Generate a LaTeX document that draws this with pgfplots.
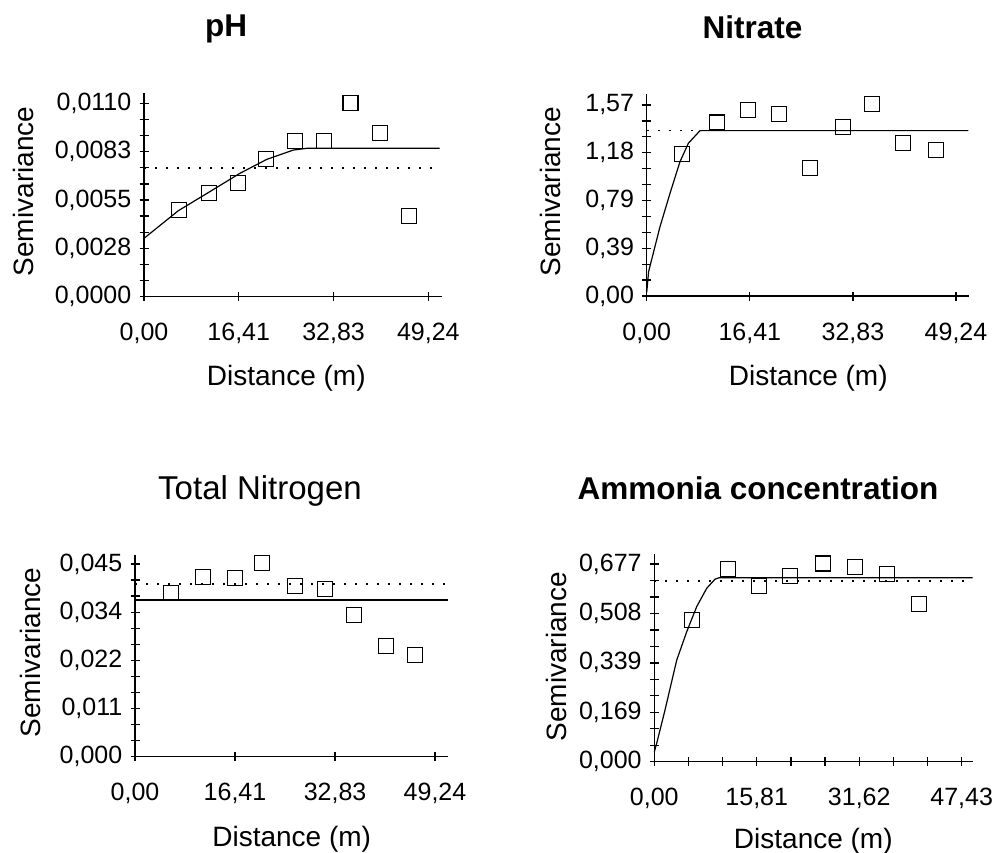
\documentclass[border=0pt]{standalone}
\usepackage{fontspec}
\setmainfont{Liberation Sans}
\usepackage{pgfplots}
\pgfplotsset{compat=1.18}
\pgfplotsset{
  semi/.style={
    scale only axis, anchor=south west, clip=false,
    axis x line=bottom, axis y line=left,
    axis line style={-, line width=1.3pt, black},
    xmin=0, ymin=0,
    scaled x ticks=false, scaled y ticks=false,
    tick align=center, xtick align=center, ytick align=center,
    major tick length=9pt, minor tick length=9pt,
    minor x tick num=2, minor y tick num=2,
    every tick/.style={black, line width=1.3pt},
    every minor tick/.style={black, line width=1.3pt},
    tick label style={font=\fontsize{25}{30}\selectfont, inner sep=0pt},
    xticklabel shift=22pt, yticklabel shift=8pt,
  },
  pts/.style={only marks, mark=square, mark size=7.5pt, mark options={line width=1.2pt, solid}, black},
  fit/.style={no marks, black, line width=1.2pt},
  sill/.style={no marks, black, line width=1.8pt, dash pattern=on 1.8pt off 9.2pt},
}
\begin{document}
\begin{tikzpicture}
\useasboundingbox (0,0) rectangle (995pt,-853pt);

% ---------- pH ----------
\begin{axis}[semi, at={(144pt,-296.7pt)}, width=297.7pt, height=203.7pt,
  xmax=51.55, ymax=0.011586,
  xtick={0,16.41,32.83,49.24}, xticklabels={{0,00},{16,41},{32,83},{49,24}},
  ytick={0,0.00275,0.0055,0.00825,0.011}, yticklabels={{0,0000},{0,0028},{0,0055},{0,0083},{0,0110}}]
\addplot[sill] coordinates {(0,0.00730) (51.3,0.00730)};
\addplot[fit] coordinates {(0,0.00332) (5.94,0.00489) (11.13,0.00592) (16.62,0.00702) (21.25,0.00781) (25.85,0.00834) (28.2,0.00844) (51.2,0.00844)};
\addplot[pts] coordinates {(6.06,0.00493) (11.26,0.00592) (16.3,0.00645) (21.07,0.00783) (26.13,0.00887) (31.15,0.00887) (35.77,0.01103) (40.85,0.00929) (45.93,0.00459)};
\end{axis}

% ---------- Nitrate ----------
\begin{axis}[semi, at={(646.7pt,-296pt)}, width=322.6pt, height=202pt,
  xmax=51.36, ymax=1.660,
  xtick={0,16.41,32.83,49.24}, xticklabels={{0,00},{16,41},{32,83},{49,24}},
  ytick={0,0.3925,0.785,1.1775,1.57}, yticklabels={{0,00},{0,39},{0,79},{1,18},{1,57}}]
\addplot[sill] coordinates {(0,1.36) (51.2,1.36)};
\addplot[fit] coordinates {(0,0.03) (0.3,0.2) (2.12,0.57) (3.71,0.844) (5.3,1.104) (6.63,1.255) (8.49,1.359) (51.2,1.359)};
\addplot[pts] coordinates {(5.67,1.167) (11.25,1.425) (16.18,1.529) (21.12,1.496) (26.0,1.050) (31.2,1.387) (35.93,1.576) (40.76,1.260) (46.07,1.200)};
\end{axis}

% ---------- Total Nitrogen ----------
\begin{axis}[semi, at={(135pt,-756.7pt)}, width=313.3pt, height=201.7pt,
  xmax=51.42, ymax=0.0471,
  xtick={0,16.41,32.83,49.24}, xticklabels={{0,00},{16,41},{32,83},{49,24}},
  ytick={0,0.01125,0.0225,0.03375,0.045}, yticklabels={{0,000},{0,011},{0,022},{0,034},{0,045}}]
\addplot[sill] coordinates {(0,0.0403) (51.3,0.0403)};
\addplot[fit] coordinates {(0,0.0366) (51.3,0.0366)};
\addplot[pts] coordinates {(5.86,0.0383) (11.21,0.0420) (16.41,0.0417) (20.79,0.0452) (26.26,0.0399) (31.18,0.0391) (35.99,0.0331) (41.14,0.0258) (45.95,0.0237)};
\end{axis}

% ---------- Ammonia ----------
\begin{axis}[semi, at={(654.3pt,-761.7pt)}, width=319pt, height=207.7pt,
  xmax=49.22, ymax=0.7112,
  xtick={0,15.81,31.62,47.43}, xticklabels={{0,00},{15,81},{31,62},{47,43}},
  ytick={0,0.16925,0.3385,0.50775,0.677}, yticklabels={{0,000},{0,169},{0,339},{0,508},{0,677}}]
\addplot[sill] coordinates {(0,0.618) (49.1,0.618)};
\addplot[fit] coordinates {(0,0.034) (0.37,0.063) (1.65,0.177) (3.46,0.348) (5.0,0.445) (6.54,0.531) (8.09,0.594) (9.37,0.625) (10.0,0.630) (49.1,0.630)};
\addplot[pts] coordinates {(5.77,0.485) (11.42,0.659) (16.2,0.603) (20.94,0.636) (25.99,0.679) (30.97,0.666) (35.86,0.643) (40.9,0.540)};
\end{axis}

% ---------- titles and labels ----------
\node[anchor=base, font=\fontsize{31.5}{36}\selectfont\bfseries] at (226pt,-37pt) {pH};
\node[anchor=base, font=\fontsize{31.5}{36}\selectfont\bfseries] at (752.5pt,-39pt) {Nitrate};
\node[anchor=base, font=\fontsize{33}{38}\selectfont] at (260pt,-499pt) {Total Nitrogen};
\node[anchor=base, font=\fontsize{31.5}{36}\selectfont\bfseries] at (758pt,-499pt) {Ammonia concentration};

\node[anchor=base, inner sep=0pt, font=\fontsize{28}{32}\selectfont] at (286.3pt,-385pt) {Distance (m)};
\node[anchor=base, inner sep=0pt, font=\fontsize{28}{32}\selectfont] at (808.3pt,-385pt) {Distance (m)};
\node[anchor=base, inner sep=0pt, font=\fontsize{28}{32}\selectfont] at (291.7pt,-846.7pt) {Distance (m)};
\node[anchor=base, inner sep=0pt, font=\fontsize{28}{32}\selectfont] at (813.3pt,-848.3pt) {Distance (m)};

\node[anchor=base, rotate=90, inner sep=0pt, font=\fontsize{28}{32}\selectfont] at (33.3pt,-191.5pt) {Semivariance};
\node[anchor=base, rotate=90, inner sep=0pt, font=\fontsize{28}{32}\selectfont] at (560pt,-191.7pt) {Semivariance};
\node[anchor=base, rotate=90, inner sep=0pt, font=\fontsize{28}{32}\selectfont] at (40pt,-652.5pt) {Semivariance};
\node[anchor=base, rotate=90, inner sep=0pt, font=\fontsize{28}{32}\selectfont] at (566.7pt,-656.7pt) {Semivariance};
\end{tikzpicture}
\end{document}
